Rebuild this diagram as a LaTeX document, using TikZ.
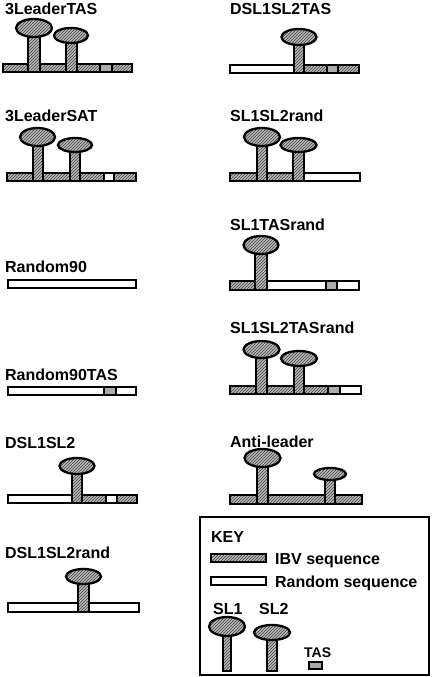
\documentclass[tikz,border=0pt]{standalone}
\usepackage{fontspec}
\setmainfont{Liberation Sans}
\usetikzlibrary{patterns}

\begin{document}
\begin{tikzpicture}[x=1pt, y=-1pt, line width=2.3pt,
    ibv/.style={draw, pattern=north east lines, pattern color=black!75, preaction={fill=gray!55}},
    rnd/.style={draw, fill=white},
    tasbox/.style={draw, fill=gray!65},
    lbl/.style={font=\bfseries\fontsize{16}{18}\selectfont, inner sep=0pt, anchor=base west}]
    \useasboundingbox (0,0) rectangle (432,677);

    % left column
    \node (leadtas) [lbl] at (4,15) {3LeaderTAS};
    \draw[ibv] (3,64) rectangle (132,72);
    \draw[tasbox] (100,64) rectangle (112,72);
    \draw[ibv] (28,28) rectangle (40,72);
    \draw[ibv] (66,35) rectangle (77,72);
    \draw[ibv] (34,28) ellipse [x radius=18pt, y radius=9pt];
    \draw[ibv] (71,35.5) ellipse [x radius=17pt, y radius=7.5pt];

    \node (leadsat) [lbl] at (4,121.5) {3LeaderSAT};
    \draw[ibv] (7,173) rectangle (136,181);
    \draw[rnd] (104,173) rectangle (114,181);
    \draw[ibv] (33,137) rectangle (43,181);
    \draw[ibv] (70,145) rectangle (80,181);
    \draw[ibv] (37.5,137) ellipse [x radius=17.5pt, y radius=9pt];
    \draw[ibv] (75,145) ellipse [x radius=17pt, y radius=7pt];

    \node (rand) [lbl] at (4,272) {Random90};
    \draw[rnd] (8,280) rectangle (136,288);

    \node (randtas) [lbl] at (4,380) {Random90TAS};
    \draw[rnd] (8,387) rectangle (136,395);
    \draw[tasbox] (104,387) rectangle (116,395);

    \node (dsl) [lbl] at (4,448) {DSL1SL2};
    \draw[rnd] (8,495) rectangle (137,503);
    \draw[ibv] (82,495) rectangle (137,503);
    \draw[rnd] (106,495) rectangle (117,503);
    \draw[ibv] (72,466) rectangle (82,503);
    \draw[ibv] (77,466) ellipse [x radius=17.5pt, y radius=8pt];

    \node (dslrand) [lbl] at (4,558) {DSL1SL2rand};
    \draw[rnd] (8,603) rectangle (139,612);
    \draw[ibv] (78,576) rectangle (89,612);
    \draw[ibv] (83.5,576.5) ellipse [x radius=17.5pt, y radius=7.5pt];

    % right column
    \node (dsltas) [lbl] at (229,15) {DSL1SL2TAS};
    \draw[rnd] (230,65) rectangle (359,73);
    \draw[ibv] (304,65) rectangle (359,73);
    \draw[tasbox] (327,65) rectangle (338,73);
    \draw[ibv] (294,37) rectangle (304,73);
    \draw[ibv] (299,37) ellipse [x radius=17.5pt, y radius=8pt];

    \node (slrand) [lbl] at (229,121.5) {SL1SL2rand};
    \draw[rnd] (230,173) rectangle (360,181);
    \draw[ibv] (230,173) rectangle (304,181);
    \draw[ibv] (257,137) rectangle (267,181);
    \draw[ibv] (293,145) rectangle (304,181);
    \draw[ibv] (262,137) ellipse [x radius=18pt, y radius=9pt];
    \draw[ibv] (298.5,145) ellipse [x radius=18pt, y radius=7pt];

    \node (sltasrand) [lbl] at (229,230) {SL1TASrand};
    \draw[rnd] (230,281) rectangle (359,290);
    \draw[ibv] (230,281) rectangle (267,290);
    \draw[tasbox] (326,281) rectangle (337,290);
    \draw[ibv] (255,245) rectangle (267,290);
    \draw[ibv] (261,245) ellipse [x radius=17.5pt, y radius=9pt];

    \node (slsltasrand) [lbl] at (229,333) {SL1SL2TASrand};
    \draw[ibv] (230,386) rectangle (361,394);
    \draw[rnd] (340,386) rectangle (361,394);
    \draw[tasbox] (328,386) rectangle (340,394);
    \draw[ibv] (256,349.5) rectangle (267,394);
    \draw[ibv] (294,358.5) rectangle (304,394);
    \draw[ibv] (261.5,349.5) ellipse [x radius=18pt, y radius=8.5pt];
    \draw[ibv] (299,358.5) ellipse [x radius=18pt, y radius=7.5pt];

    \node (anti) [lbl] at (229,447) {Anti-leader};
    \draw[ibv] (230,495) rectangle (362,504);
    \draw[ibv] (257,458) rectangle (268,504);
    \draw[ibv] (325,474) rectangle (335,504);
    \draw[ibv] (262.5,458) ellipse [x radius=18pt, y radius=9pt];
    \draw[ibv] (330,474) ellipse [x radius=16pt, y radius=6pt];

    % key
    \draw (200,517) rectangle (429,675);
    \node (key) [lbl] at (210,542) {KEY};
    \draw[ibv] (211,554) rectangle (266,562);
    \node (ibvtxt) [lbl] at (274,564) {IBV sequence};
    \draw[rnd] (211,577) rectangle (266,585);
    \node (rndtxt) [lbl] at (274,587) {Random sequence};
    \node (slone) [lbl] at (212,614) {SL1};
    \node (sltwo) [lbl] at (258,614) {SL2};
    \draw[ibv] (223,626) rectangle (231,671);
    \draw[ibv] (227,626.5) ellipse [x radius=18pt, y radius=9.5pt];
    \draw[ibv] (267,632) rectangle (277,671);
    \draw[ibv] (272,632.5) ellipse [x radius=18pt, y radius=7.5pt];
    \node (tastxt) [lbl, font=\bfseries\fontsize{14}{16}\selectfont] at (303,657) {TAS};
    \draw[tasbox] (309,662) rectangle (322,669);
\end{tikzpicture}
\end{document}
